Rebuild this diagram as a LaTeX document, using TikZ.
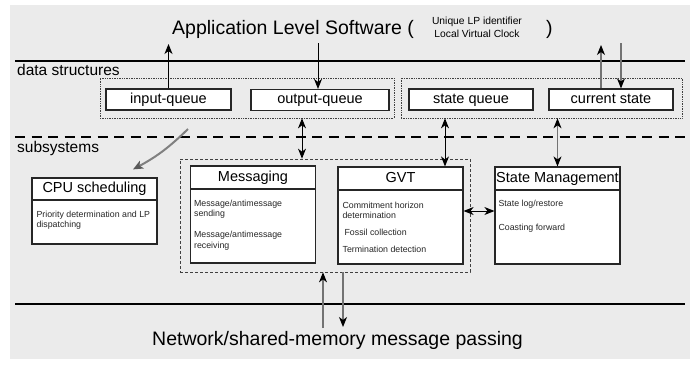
\documentclass[tikz,border=0pt]{standalone}
\usepackage{fontspec}
\setmainfont{Liberation Sans}
\setsansfont{Liberation Sans}
\usetikzlibrary{arrows.meta,positioning}
\definecolor{panel}{RGB}{235,235,235}
\begin{document}
\begin{tikzpicture}[x=1pt,y=-1pt,font=\sffamily,
 big/.style={font=\fontsize{19.5}{22}\selectfont,inner sep=0pt,anchor=base west},
 layer/.style={font=\fontsize{15.5}{18}\selectfont,inner sep=0pt,anchor=base west},
 queue/.style={draw=black!85,fill=white,line width=1.2pt,minimum width=125pt,minimum height=21pt,inner sep=0pt,text height=10.5pt,text depth=3pt,font=\fontsize{14.5}{17}\selectfont},
 group/.style={draw=black!75,densely dotted,line width=.7pt,inner sep=0pt},
 unit/.style={draw=black!85,fill=white,line width=1.2pt,minimum width=125pt,minimum height=97pt,inner sep=0pt},
 head/.style={draw=black!85,line width=1.2pt,minimum width=125pt,minimum height=23pt,inner sep=0pt,text height=10.5pt,text depth=3pt,anchor=north,font=\fontsize{14.5}{17}\selectfont},
 body/.style={font=\fontsize{8.8}{10.5}\selectfont,text=black!85,align=left,inner sep=0pt},
 link/.style={-{Stealth[length=10pt,width=8pt,inset=3pt]},line width=1pt},
 glink/.style={-{Stealth[length=10pt,width=8pt,inset=3pt,color=black]},draw=black!55,line width=1.1pt},
 pair/.style={{Stealth[length=10pt,width=8pt,inset=3pt]}-{Stealth[length=10pt,width=8pt,inset=3pt]},line width=1pt},
 gpair/.style={{Stealth[length=10pt,width=8pt,inset=3pt,color=black]}-{Stealth[length=10pt,width=8pt,inset=3pt,color=black]},draw=black!55,line width=1.1pt}]
\useasboundingbox (0,0) rectangle (699,367);
\fill[panel] (10,5) rectangle (690,359);
\node[big] (app) at (172,34.5) {Application Level Software (};
\node[font=\fontsize{10.3}{13}\selectfont,align=center,inner sep=0pt] (lpinfo) at (477,27) {Unique LP identifier\\Local Virtual Clock};
\node[big] (appclose) at (546,34.5) {)};
\node[big] (net) at (152,345) {Network/shared-memory message passing};
\draw[line width=2pt] (15,61) -- (685,61);
\draw[line width=1.6pt,dash pattern=on 10pt off 6.5pt] (15,137) -- (685,137);
\draw[line width=2pt] (15,304) -- (685,304);
\node[layer] (dslabel) at (17,75) {data structures};
\node[layer] (sslabel) at (17,152) {subsystems};
\node[group,minimum width=294pt,minimum height=40pt] (dsleft) at (247,98) {};
\node[group,minimum width=281pt,minimum height=40pt] (dsright) at (541.5,98) {};
\node[group,densely dashed,minimum width=290pt,minimum height=113pt] (subs) at (325,215.5) {};
\node[queue] (inq) at (168.5,99.5) {input-queue};
\node[queue,minimum width=138pt] (outq) at (320,100) {output-queue};
\node[queue,minimum width=124pt] (stq) at (471,99.5) {state queue};
\node[queue,minimum width=124pt] (curst) at (611,99.5) {current state};
\node[unit] (msg) at (253,214.5) {};
\node[head] (msghead) at (msg.north) {Messaging};
\node[body,below right=10pt and 4pt of msghead.south west] (msgtext) {Message/antimessage\\sending\\[10.5pt]Message/antimessage\\receiving};
\node[unit] (gvt) at (400.5,215.5) {};
\node[head] (gvthead) at (gvt.north) {GVT};
\node[body,below right=11pt and 5pt of gvthead.south west] (gvttext) {Commitment horizon\\determination\\[6.5pt]\hspace{2pt}Fossil collection\\[6.5pt]Termination detection};
\node[unit] (sm) at (557.5,215.5) {};
\node[head] (smhead) at (sm.north) {State Management};
\node[body,below right=9pt and 4pt of smhead.south west] (smtext) {State log/restore\\[13.5pt]Coasting forward};
\node[unit,minimum height=66pt] (cpu) at (94.5,211) {};
\node[head,minimum height=22pt] (cpuhead) at (cpu.north) {CPU scheduling};
\node[body,below right=10pt and 5pt of cpuhead.south west] (cputext) {Priority determination and LP\\dispatching};
\coordinate (appup) at (168.5,44);
\draw[link] (inq.north) -- (appup);
\coordinate (appdown) at (318,43);
\draw[link] (appdown) -- (appdown |- outq.north);
\coordinate (stup) at (601,45);
\draw[glink] (curst.north -| stup) -- (stup);
\coordinate (stdown) at (621,43);
\draw[glink] (stdown) -- (stdown |- curst.north);
\coordinate (mq) at (302,118);
\draw[pair] (mq |- dsleft.south) -- (mq |- subs.north);
\coordinate (gq) at (445,118);
\draw[pair] (gq |- dsright.south) -- (gq |- gvthead.north);
\draw[gpair] (sm.north |- dsright.south) -- (sm.north);
\draw[pair] ([yshift=4.5pt]gvt.east) -- ([yshift=4.5pt]sm.west);
\coordinate (netup) at (323,328);
\draw[glink] (netup) -- (netup |- subs.south);
\coordinate (netdown) at (343,327);
\draw[glink] (netdown |- subs.south) -- (netdown);
\coordinate (schedfrom) at (188,129);
\draw[line width=2pt,draw=black!50,-{Stealth[length=10pt,width=8.5pt,inset=2.5pt,color=black!65]}] (schedfrom) to[bend left=8] ([shift={(38.5pt,8pt)}]cpu.north);
\end{tikzpicture}
\end{document}
